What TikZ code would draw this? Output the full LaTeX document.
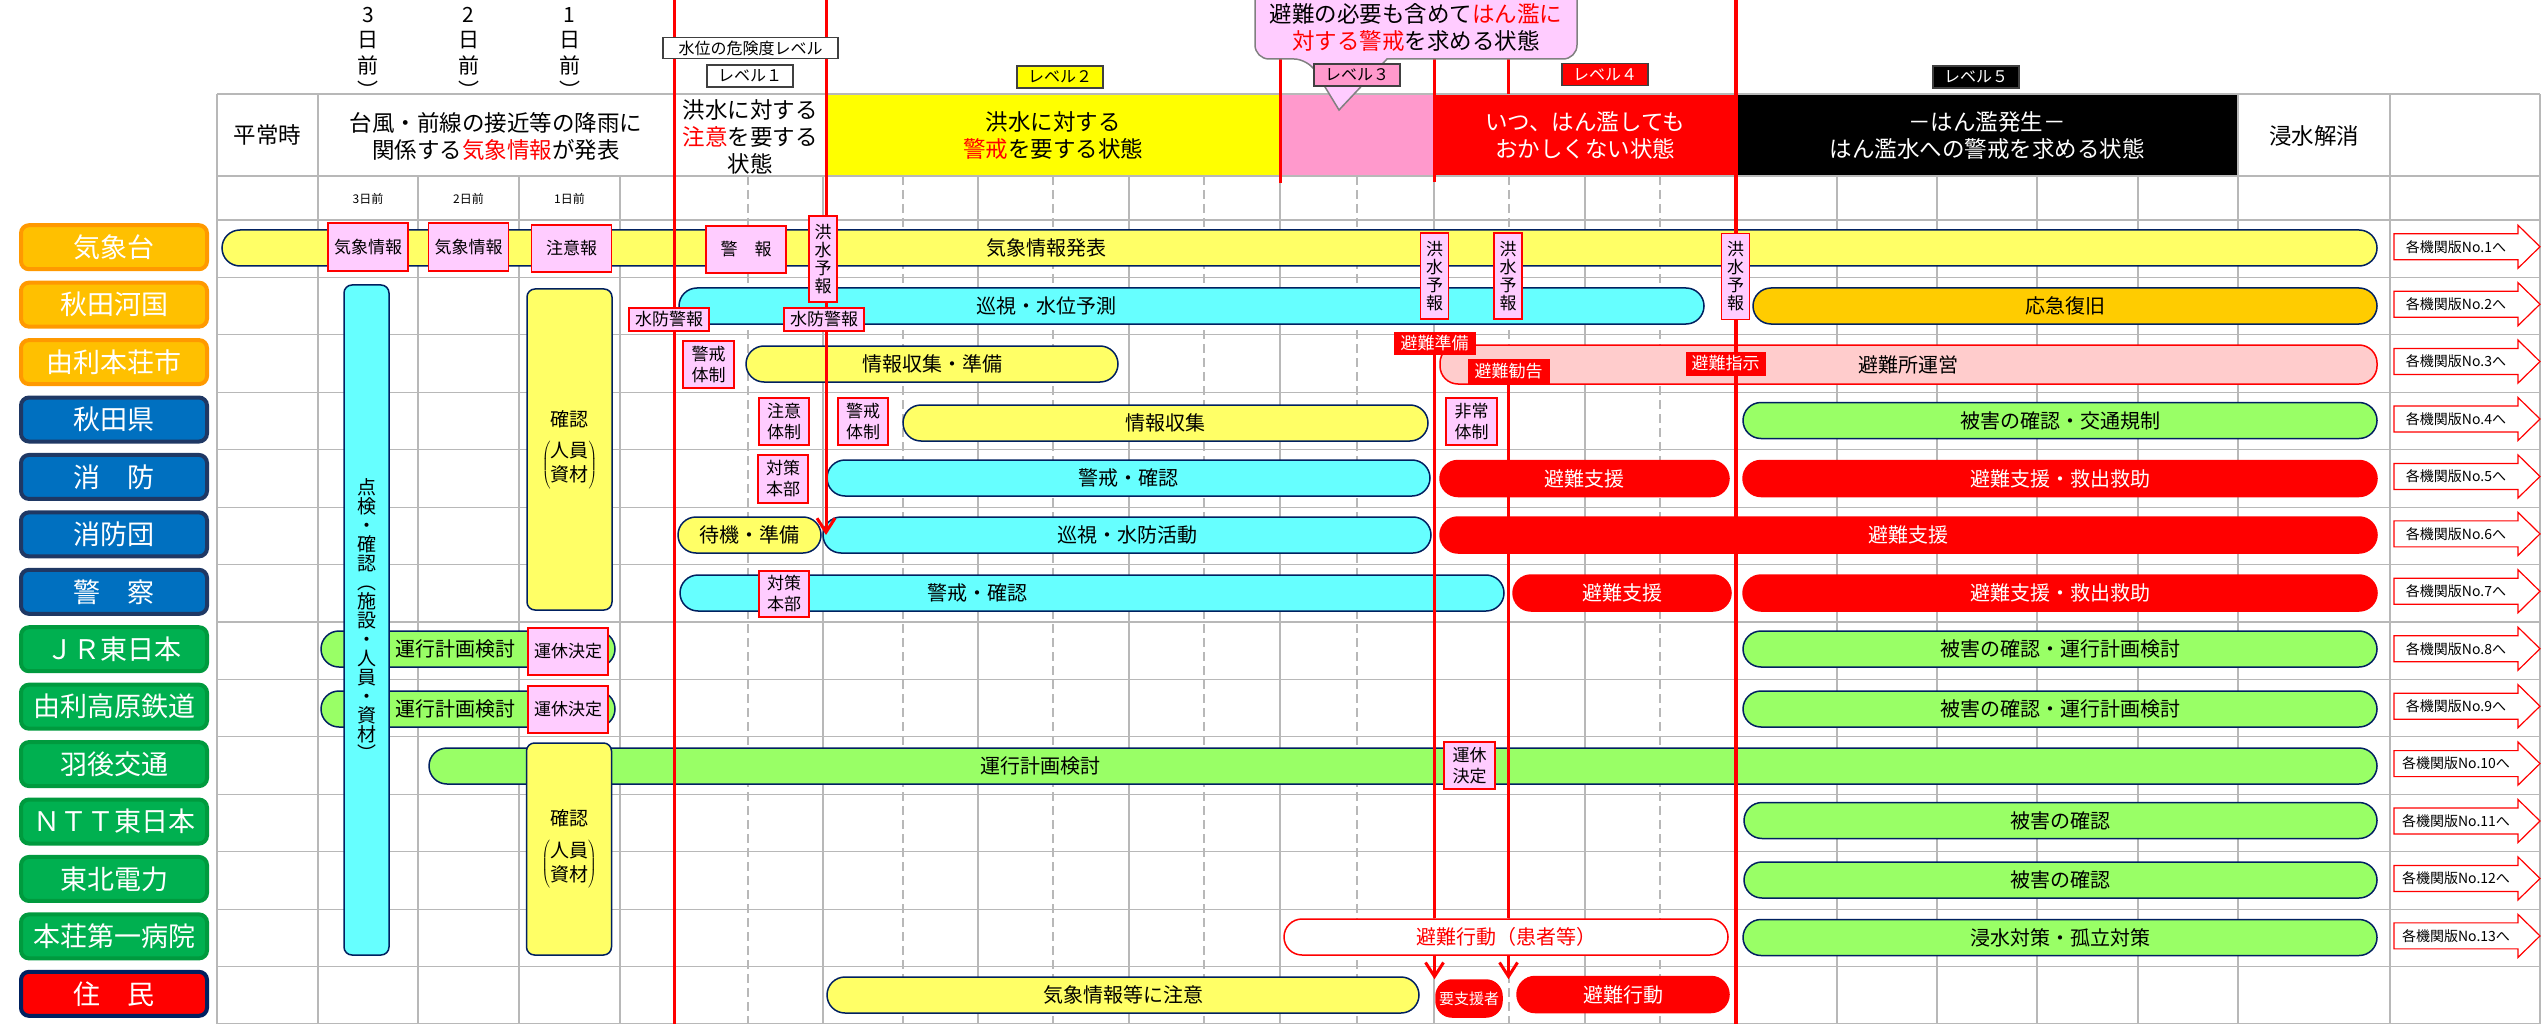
\documentclass[tikz,border=0pt]{standalone}
\usepackage{fontspec}
\setmainfont{Noto Sans CJK JP}
\usetikzlibrary{arrows.meta}

\definecolor{lblorg}{HTML}{FFC000}
\definecolor{lblorgline}{HTML}{FF9900}
\definecolor{lblblue}{HTML}{0070C0}
\definecolor{lblnavy}{HTML}{1F3864}
\definecolor{lblgreen}{HTML}{00B050}
\definecolor{lblgreenline}{HTML}{009A3E}
\definecolor{bandline}{HTML}{002060}
\definecolor{byel}{HTML}{FFFF66}
\definecolor{bcyan}{HTML}{66FFFF}
\definecolor{bgreen}{HTML}{99FF66}
\definecolor{borange}{HTML}{FFCC00}
\definecolor{bpink}{HTML}{FFCCCC}
\definecolor{tagpink}{HTML}{FFCCFF}
\definecolor{hyel}{HTML}{FFFF00}
\definecolor{hpink}{HTML}{FF99CC}

\begin{document}
\begin{tikzpicture}[x=1pt, y=-1pt,
    gridline/.style={draw=black!28, line width=1.2},
    griddash/.style={gridline, dash pattern=on 9pt off 5pt},
    warn/.style={draw=red, line width=3},
    agency/.style={rounded corners=8, line width=4, minimum width=186, minimum height=44, inner sep=0, text=white, font=\fontsize{27}{30}\selectfont},
    orglbl/.style={agency, fill=lblorg, draw=lblorgline},
    blulbl/.style={agency, fill=lblblue, draw=lblnavy},
    grnlbl/.style={agency, fill=lblgreen, draw=lblgreenline},
    reslbl/.style={agency, fill=red, draw=bandline},
    band/.style={draw=bandline, line width=1.5, rounded corners=18, minimum height=36, inner sep=0, align=center, font=\fontsize{20}{24}\selectfont},
    redband/.style={band, fill=red, draw=red, text=white},
    bandtxt/.style={font=\fontsize{20}{24}\selectfont},
    tag/.style={fill=tagpink, draw=red, line width=1.5, inner sep=0, align=center, font=\fontsize{17}{21}\selectfont},
    vtag/.style={tag, minimum width=28, minimum height=86, font=\fontsize{17}{18}\selectfont},
    redtag/.style={fill=red, draw=red, text=white, inner sep=0, font=\fontsize{17}{19}\selectfont},
    lvbox/.style={draw=black!75, line width=1.5, minimum width=86, minimum height=22, inner sep=0, font=\fontsize{16}{18}\selectfont},
    hdr/.style={align=center, inner sep=0, font=\fontsize{22.5}{27}\selectfont},
    daytop/.style={align=center, font=\fontsize{21}{25.5}\selectfont},
    outarr/.style={draw=red, fill=white, line width=1.2}
  ]
    \useasboundingbox (0,0) rectangle (2548,1024);

    % Header cells for the water levels
    \node[hdr, fill=hyel, minimum width=454, minimum height=82] (lv2cell) at (1053,135) {洪水に対する\\\textcolor{red}{警戒}を要する状態};
    \node[hdr, fill=hpink, minimum width=154, minimum height=82] (lv3cell) at (1357,135) {};
    \node[hdr, fill=red, text=white, minimum width=302, minimum height=82] (lv4cell) at (1585,135) {いつ、はん濫しても\\おかしくない状態};
    \node[hdr, fill=black, text=white, minimum width=502, minimum height=82] (lv5cell) at (1987,135) {－はん濫発生－\\はん濫水への警戒を求める状態};

    % Grid of the table
    \foreach \i in {0,...,14}
        \draw[gridline] (217,{220+57.43*\i}) -- (2540,{220+57.43*\i});
    \draw[gridline, line width=2.5] (217,94) -- (2540,94);
    \draw[gridline, line width=2.5] (217,176) -- (2540,176);
    \foreach \x in {217,318,674,1280,1434,1736,2238,2390,2540}
        \draw[gridline] (\x,94) -- (\x,1024);
    \foreach \x in {418,519,620,823,978,1129,1585,1837,1937,2037,2138}
        \draw[gridline] (\x,176) -- (\x,1024);
    \foreach \x in {748,903,1053,1204,1357,1509,1660}
        \draw[griddash] (\x,176) -- (\x,1024);

    % Header texts
    \node[hdr] (heijo) at (267.5,135) {平常時};
    \node[hdr] (taifu) at (496,136) {台風・前線の接近等の降雨に\\関係する\textcolor{red}{気象情報}が発表};
    \node[hdr] (lv1cell) at (750,137) {洪水に対する\\\textcolor{red}{注意}を要する\\状態};
    \node[hdr] (kaisho) at (2314,136) {浸水解消};
    \node[font=\fontsize{12}{14}\selectfont] (day3) at (368,199) {3日前};
    \node[font=\fontsize{12}{14}\selectfont] (day2) at (468.5,199) {2日前};
    \node[font=\fontsize{12}{14}\selectfont] (day1) at (569.5,199) {1日前};
    \node[daytop] (top3) at (368,46) {︵\\3\\日\\前\\︶};
    \node[daytop] (top2) at (468.5,46) {︵\\2\\日\\前\\︶};
    \node[daytop] (top1) at (569.5,46) {︵\\1\\日\\前\\︶};

    % Agencies on the left
    \foreach \nm/\txt/\kind [count=\i] in {kishodai/気象台/orglbl, kasen/秋田河国/orglbl, yurihonjo/由利本荘市/orglbl,
        akitaken/秋田県/blulbl, shobo/消　防/blulbl, shobodan/消防団/blulbl, keisatsu/警　察/blulbl,
        jr/ＪＲ東日本/grnlbl, yurikogen/由利高原鉄道/grnlbl, ugo/羽後交通/grnlbl, ntt/ＮＴＴ東日本/grnlbl,
        tohoku/東北電力/grnlbl, byoin/本荘第一病院/grnlbl, jumin/住　民/reslbl}
        \node[\kind] (\nm) at (114,{189.8+57.43*\i}) {\txt};

    % Bars, row by row
    \node[band, fill=byel, minimum width=2155] (kishobar) at (1299.5,248) {};
    \node[bandtxt] (kishotxt) at (1046,248) {気象情報発表};
    \node[band, fill=bcyan, minimum width=1025] (junshi) at (1191.5,306) {};
    \node[bandtxt] (junshitxt) at (1046,306) {巡視・水位予測};
    \node[band, fill=borange, minimum width=624] (okyu) at (2065,306) {応急復旧};
    \node[band, fill=byel, minimum width=372] (joho1) at (932,364) {情報収集・準備};
    \node[band, fill=bpink, draw=red, minimum width=937, minimum height=39] (hinanjo) at (1908.5,364.5) {避難所運営};
    \node[band, fill=byel, minimum width=525] (joho2) at (1165.5,423) {情報収集};
    \node[band, fill=bgreen, minimum width=634] (kotsu) at (2060,420.5) {被害の確認・交通規制};
    \node[band, fill=bcyan, minimum width=603] (keikai1) at (1128.5,478) {警戒・確認};
    \node[redband, minimum width=289] (shien1) at (1584.5,478.5) {避難支援};
    \node[redband, minimum width=634] (kyujo1) at (2060,478.5) {避難支援・救出救助};
    \node[band, fill=byel, minimum width=143] (taiki) at (749.5,535) {待機・準備};
    \node[band, fill=bcyan, minimum width=608] (suibo) at (1127,535) {巡視・水防活動};
    \node[redband, minimum width=937] (shien2) at (1908.5,535) {避難支援};
    \node[band, fill=bcyan, minimum width=824] (keikai2) at (1092,593) {};
    \node[bandtxt] (keikai2txt) at (977,593) {警戒・確認};
    \node[redband, minimum width=218] (shien3) at (1622,593) {避難支援};
    \node[redband, minimum width=634] (kyujo2) at (2060,593) {避難支援・救出救助};
    \node[band, fill=bgreen, minimum width=294] (jrplan) at (468,649) {};
    \node[bandtxt] (jrplantxt) at (455,649) {運行計画検討};
    \node[band, fill=bgreen, minimum width=634] (jrdmg) at (2060,649) {被害の確認・運行計画検討};
    \node[band, fill=bgreen, minimum width=294] (ykplan) at (468,709) {};
    \node[bandtxt] (ykplantxt) at (455,709) {運行計画検討};
    \node[band, fill=bgreen, minimum width=634] (ykdmg) at (2060,709) {被害の確認・運行計画検討};
    \node[band, fill=bgreen, minimum width=1948] (ugoplan) at (1403,766) {};
    \node[bandtxt] (ugoplantxt) at (1040,766) {運行計画検討};
    \node[band, fill=bgreen, minimum width=633] (nttdmg) at (2060.5,820.5) {被害の確認};
    \node[band, fill=bgreen, minimum width=633] (tohokudmg) at (2060.5,880) {被害の確認};
    \node[band, fill=white, draw=red, text=red, minimum width=444] (kanja) at (1506,937) {避難行動（患者等）};
    \node[band, fill=bgreen, minimum width=634] (shinsui) at (2060,937.5) {浸水対策・孤立対策};
    \node[band, fill=byel, minimum width=592] (chui) at (1123,995) {気象情報等に注意};
    \node[redband, minimum width=66, minimum height=37, rounded corners=16, font=\fontsize{15}{17}\selectfont] (yoshien) at (1469,998.5) {要支援者};
    \node[redband, minimum width=212] (kodo) at (1623,994.5) {避難行動};

    % Long vertical bars
    \node[band, fill=bcyan, minimum width=45, minimum height=670, rounded corners=8, font=\fontsize{19}{19}\selectfont] (tenken) at (366.5,620)
        {点\\検\\・\\確\\認\\︵\\施\\設\\・\\人\\員\\・\\資\\材\\︶};
    \node[band, fill=byel, minimum width=85, minimum height=321, rounded corners=8, font=\fontsize{19}{24}\selectfont] (kakunin1) at (569.5,449.5)
        {確認\\[12pt]$\left(\begin{tabular}{@{}c@{}}人員\\資材\end{tabular}\right)$};
    \node[band, fill=byel, minimum width=85, minimum height=212, rounded corners=8, font=\fontsize{19}{24}\selectfont] (kakunin2) at (569,849)
        {確認\\[12pt]$\left(\begin{tabular}{@{}c@{}}人員\\資材\end{tabular}\right)$};

    % Red level lines
    \coordinate (lv1top) at (674,0);
    \coordinate (lv1bot) at (674,1024);
    \coordinate (lv2top) at (826,0);
    \coordinate (lv5top) at (1736,0);
    \coordinate (lv5bot) at (1736,1024);
    \coordinate (lv3a) at (1280,59);
    \coordinate (lv3b) at (1280,183);
    \coordinate (lv4a) at (1434,59);
    \coordinate (lv4b) at (1434,182);
    \coordinate (lv4c) at (1508,59);
    \coordinate (lv4d) at (1508,94);
    \draw[warn] (lv1top) -- (lv1bot);
    \draw[warn, -{Straight Barb[length=14pt,width=18pt]}] (lv2top) -- (lv2top |- taiki.east);
    \draw[warn, line width=4.5] (lv5top) -- (lv5bot);
    \draw[warn] (lv3a) -- (lv3b);
    \draw[warn] (lv4a) -- (lv4b);
    \draw[warn] (lv4c) -- (lv4d);

    % Call-out for level 3
    \draw[fill=tagpink, draw=black!50, line width=1.5] (1255,-30) [rounded corners=14] -- (1255,59) -- (1308,59)
        [sharp corners] -- (1339,110) -- (1387,59) [rounded corners=14] -- (1577,59) -- (1577,-30) -- cycle;
    \node[hdr] (callout) at (1416,27) {避難の必要も含めて\textcolor{red}{はん濫に}\\\textcolor{red}{対する警戒}を求める状態};

    % Level boxes
    \node[lvbox, fill=white, minimum width=175, minimum height=21] (wlevel) at (750.5,48) {水位の危険度レベル};
    \node[lvbox, fill=white] (lvl1) at (750,76) {レベル１};
    \node[lvbox, fill=hyel] (lvl2) at (1060,77) {レベル２};
    \node[lvbox, fill=hpink] (lvl3) at (1357,75) {レベル３};
    \node[lvbox, fill=red, text=white] (lvl4) at (1605,74.5) {レベル４};
    \node[lvbox, fill=black, text=white] (lvl5) at (1976,77) {レベル５};

    % Notices
    \node[tag, minimum width=80, minimum height=48] (kjoho1) at (368,247) {気象情報};
    \node[tag, minimum width=80, minimum height=48] (kjoho2) at (468.5,247) {気象情報};
    \node[tag, minimum width=80, minimum height=47] (chuiho) at (571.5,248.5) {注意報};
    \node[tag, minimum width=80, minimum height=47] (keiho) at (746,249.5) {警　報};
    \node[vtag] (kozui1) at (823,259) {洪\\水\\予\\報};
    \node[vtag] (kozui2) at (1434.5,276) {洪\\水\\予\\報};
    \node[vtag] (kozui3) at (1508,276) {洪\\水\\予\\報};
    \node[vtag] (kozui4) at (1735.5,276.5) {洪\\水\\予\\報};
    \node[tag, minimum width=80, minimum height=23] (suibo1) at (669,319.5) {水防警報};
    \node[tag, minimum width=80, minimum height=23] (suibo2) at (824,319.5) {水防警報};
    \node[tag, minimum width=51, minimum height=47] (keikaitai1) at (708.5,364.5) {警戒\\体制};
    \node[tag, minimum width=50, minimum height=47] (chuitai) at (784,421.5) {注意\\体制};
    \node[tag, minimum width=50, minimum height=47] (keikaitai2) at (863,421.5) {警戒\\体制};
    \node[tag, minimum width=51, minimum height=47] (hijotai) at (1471.5,421.5) {非常\\体制};
    \node[tag, minimum width=50, minimum height=48] (taisaku1) at (783,479) {対策\\本部};
    \node[tag, minimum width=50, minimum height=46] (taisaku2) at (784,594) {対策\\本部};
    \node[tag, minimum width=80, minimum height=47] (unkyu1) at (568,651.5) {運休決定};
    \node[tag, minimum width=80, minimum height=47] (unkyu2) at (568,709.5) {運休決定};
    \node[tag, minimum width=51, minimum height=47] (unkyu3) at (1469.5,765.5) {運休\\決定};
    \node[redtag, minimum width=81, minimum height=22] (hjunbi) at (1434.5,343) {避難準備};
    \node[redtag, minimum width=81, minimum height=24] (hkankoku) at (1508.5,371) {避難勧告};
    \node[redtag, minimum width=79, minimum height=23] (hshiji) at (1725.5,363.5) {避難指示};

    % Evacuation lines down to the residents
    \draw[warn] (hjunbi.south) -- (hjunbi.south |- kanja.north);
    \draw[warn] (hkankoku.south) -- (hkankoku.south |- kanja.north);
    \draw[warn, -{Straight Barb[length=14pt,width=18pt]}] (hjunbi.south |- kanja.south) -- (hjunbi.south |- yoshien.north);
    \draw[warn, -{Straight Barb[length=14pt,width=18pt]}] (hkankoku.south |- kanja.south) -- (hkankoku.south |- yoshien.north);

    % Arrows to each agency sheet
    \foreach \i in {1,...,13}{
        \pgfmathsetmacro{\yc}{189.3+57.43*\i}
        \draw[outarr] (2394,\yc-13) -- (2518,\yc-13) -- (2518,\yc-21.5) -- (2540,\yc) -- (2518,\yc+21.5) -- (2518,\yc+13) -- (2394,\yc+13) -- cycle;
        \node[font=\fontsize{14}{16}\selectfont] (sheet\i) at (2456,\yc) {各機関版No.\i へ};
    }

\end{tikzpicture}
\end{document}
